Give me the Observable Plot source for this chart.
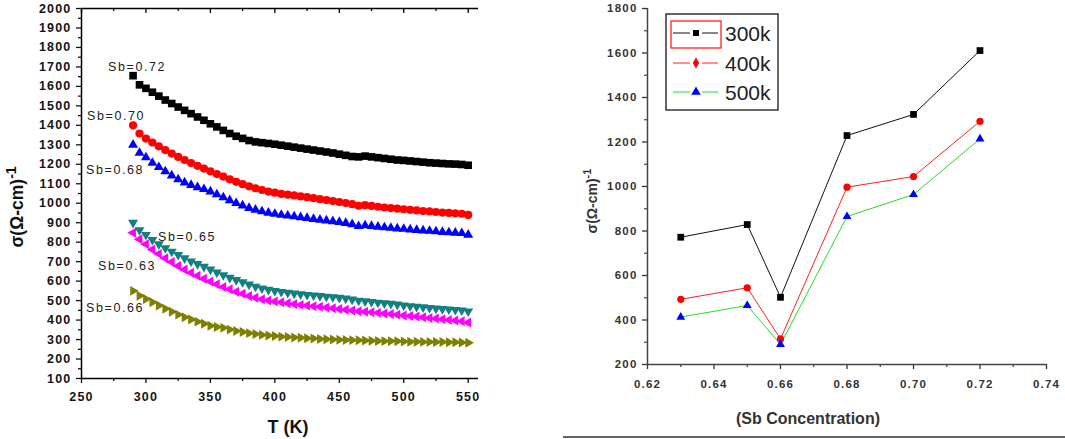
<!DOCTYPE html>
<html><head><meta charset="utf-8">
<script src="https://cdn.jsdelivr.net/npm/d3@7"></script>
<script src="https://cdn.jsdelivr.net/npm/@observablehq/plot@0.6"></script>
<style>
body{margin:0;background:#fff;}
#wrap{position:relative;width:1065px;height:439px;overflow:hidden;font-family:"Liberation Sans",Arial,sans-serif;background:#fff;}
.panel{position:absolute;top:0;}
.panel svg{overflow:visible;display:block;}
#left g[aria-label="y-axis tick label"] text,#left g[aria-label="x-axis tick label"] text{letter-spacing:1.2px;}
#right g[aria-label="y-axis tick label"] text,#right g[aria-label="x-axis tick label"] text{letter-spacing:1.2px;}
#left g[aria-label="text"] text{letter-spacing:1.6px;}
#overlay{position:absolute;left:0;top:0;pointer-events:none;}
</style></head><body><div id="wrap"><div id="left" class="panel" style="left:0"></div><div id="right" class="panel" style="left:560px"></div></div>
<script>
// ---------- Left panel data: sigma vs T ----------
const T = [290,295,300,305,310,315,320,325,330,335,340,345,350,355,360,365,370,375,380,385,390,395,400,405,410,415,420,425,430,435,440,445,450,455,460,465,470,475,480,485,490,495,500,505,510,515,520,525,530,535,540,545,550];
const sb072 = [1655,1608,1590,1570,1550,1530,1512,1494,1477,1460,1443,1426,1408,1392,1374,1358,1344,1333,1322,1315,1311,1307,1303,1298,1293,1288,1283,1278,1273,1268,1263,1258,1252,1246,1240,1238,1242,1238,1234,1230,1226,1222,1220,1217,1214,1211,1208,1206,1204,1202,1201,1199,1195];
const sb070 = [1400,1358,1332,1312,1292,1273,1255,1238,1222,1206,1192,1178,1164,1150,1137,1123,1110,1098,1087,1077,1068,1060,1054,1048,1044,1040,1035,1031,1026,1021,1016,1011,1006,1001,995,987,990,986,982,978,975,972,969,966,963,960,958,955,952,950,948,946,940];
const sb068 = [1300,1258,1235,1207,1185,1163,1142,1122,1106,1093,1082,1072,1060,1045,1030,1015,1000,988,975,966,958,951,945,940,936,932,928,924,919,915,911,907,903,898,892,882,886,883,879,876,873,870,868,865,862,860,858,855,852,850,848,846,838];
const sb065 = [900,862,838,812,790,770,752,735,718,702,688,674,660,645,631,618,606,595,583,572,563,556,550,545,541,537,533,530,527,524,521,518,515,511,506,500,497,494,490,487,484,480,476,472,469,466,463,460,457,455,453,450,445];
const sb063 = [848,815,790,762,740,718,698,678,660,643,628,612,598,584,570,558,546,535,524,515,507,501,496,491,486,482,478,475,471,468,465,461,457,453,449,445,443,440,437,434,431,428,424,421,418,415,411,408,404,401,398,394,388];
const sb066 = [550,525,508,492,475,458,443,428,415,403,392,381,371,364,360,351,344,339,333,328,324,321,318,315,313,311,309,307,305,303,301,300,299,298,297,296,295,294,293,292,292,291,290,289,289,288,288,287,287,286,286,285,284];
const leftLabels = ["Sb=0.72","Sb=0.70","Sb=0.68","Sb=0.65","Sb=0.63","Sb=0.66"];
const leftTicksY = d3.range(100, 2001, 100);
const leftTicksX = [250,300,350,400,450,500,550];

// ---------- Right panel data: sigma vs Sb ----------
const sbConc = [0.63,0.65,0.66,0.68,0.70,0.72];
const sig300 = [772,829,502,1229,1324,1611];
const sig400 = [493,545,315,997,1045,1293];
const sig500 = [413,465,290,865,964,1214];
const rightLabels = ["300k","400k","500k"];
const rightTicksY = [200,400,600,800,1000,1200,1400,1600,1800];
const rightTicksX = [0.62,0.64,0.66,0.68,0.70,0.72,0.74];

// custom triangle symbols (rotated d3 triangle)
function tri(angle){
  return {draw(ctx,size){
    const y = -Math.sqrt(size/(Math.sqrt(3)*3));
    const pts=[[0,y*2],[-Math.sqrt(3)*y,-y],[Math.sqrt(3)*y,-y]];
    const c=Math.cos(angle), s=Math.sin(angle);
    pts.forEach(([px,py],i)=>{const X=px*c-py*s, Y=px*s+py*c; i?ctx.lineTo(X,Y):ctx.moveTo(X,Y);});
    ctx.closePath();
  }};
}
const triUp=tri(0), triDown=tri(Math.PI), triLeft=tri(-Math.PI/2), triRight=tri(Math.PI/2);
const intFmt = d3.format("d");

const leftSeries = [
  {vals:sb072, label:leftLabels[0], color:"#000000", symbol:"square", r:4.3, dx:4, dy:-9},
  {vals:sb070, label:leftLabels[1], color:"#ff0000", symbol:"circle", r:4.1, dx:-17, dy:-9},
  {vals:sb068, label:leftLabels[2], color:"#0000ff", symbol:triUp, r:3.7, dx:-18, dy:25},
  {vals:sb065, label:leftLabels[3], color:"#138080", symbol:triDown, r:3.7, dx:54, dy:14},
  {vals:sb063, label:leftLabels[4], color:"#ff00ff", symbol:triLeft, r:3.7, dx:-6, dy:33},
  {vals:sb066, label:leftLabels[5], color:"#808000", symbol:triRight, r:3.7, dx:-18, dy:17}
];

const leftMarks = [
  Plot.ruleY([2000], {stroke:"#000", strokeWidth:1.3}),
  Plot.tickX(leftTicksX, {x:d=>d, insetBottom:365, stroke:"#000", strokeWidth:1.3}),
  Plot.tickX(leftTicksX.slice(0,-1).map(d=>d+25), {x:d=>d, insetBottom:367, stroke:"#000", strokeWidth:1.2}),
  Plot.axisY({ticks:leftTicksY, tickSize:5, tickPadding:5, fontSize:12.5, fontWeight:"bold", color:"#151515", strokeWidth:1.3, tickFormat:intFmt, label:null}),
  Plot.axisY({ticks:leftTicksY.slice(0,-1).map(d=>d+50), tickSize:3, tickFormat:()=>"", strokeWidth:1.2, label:null}),
  Plot.axisX({ticks:leftTicksX, tickSize:5, tickPadding:9, fontSize:12.5, fontWeight:"bold", color:"#151515", strokeWidth:1.3, tickFormat:intFmt, label:null}),
  Plot.axisX({ticks:leftTicksX.slice(0,-1).map(d=>d+25), tickSize:3, tickFormat:()=>"", strokeWidth:1.2, label:null}),
  Plot.ruleX([250], {stroke:"#000", strokeWidth:1.5}),
  Plot.ruleY([100], {stroke:"#000", strokeWidth:1.5})
];
leftSeries.forEach(s=>{
  const rows = T.map((t,i)=>({T:t, v:s.vals[i]}));
  leftMarks.push(Plot.dot(rows, {x:"T", y:"v", symbol:s.symbol, r:s.r, fill:s.color}));
});
leftSeries.forEach(s=>{
  leftMarks.push(Plot.text([{T:T[0], v:s.vals[0]}], {x:"T", y:"v", text:()=>s.label, dx:s.dx, dy:s.dy, fontSize:12.5, fill:"#222", textAnchor:"middle", lineAnchor:"middle"}));
});

const leftPlot = Plot.plot({
  width:540, height:439,
  marginLeft:81, marginRight:62, marginTop:8, marginBottom:61,
  x:{domain:[250,558]}, y:{domain:[100,2000]},
  style:{fontFamily:"'Liberation Sans', Arial, sans-serif", background:"transparent", overflow:"visible"},
  marks:leftMarks
});
document.getElementById("left").appendChild(leftPlot);

// right plot
const rightSeries = [
  {vals:sig300, color:"#000000", line:"#111111", symbol:"square", r:3.8},
  {vals:sig400, color:"#ff0000", line:"#ff2020", symbol:"circle", r:3.6},
  {vals:sig500, color:"#0000ff", line:"#22dd22", symbol:triUp, r:3.3}
];
const rightMarks = [
  Plot.axisY({ticks:rightTicksY, tickSize:5, tickPadding:5, fontSize:11.5, fontWeight:"bold", color:"#333", strokeWidth:1.3, tickFormat:intFmt, label:null}),
  Plot.axisY({ticks:rightTicksY.slice(0,-1).map(d=>d+100), tickSize:3, tickFormat:()=>"", color:"#444", strokeWidth:1.2, label:null}),
  Plot.axisX({ticks:rightTicksX, tickSize:5, tickPadding:10, fontSize:11.5, fontWeight:"bold", color:"#333", strokeWidth:1.3, tickFormat:d3.format(".2f"), label:null}),
  Plot.axisX({ticks:rightTicksX.slice(0,-1).map(d=>d+0.01), tickSize:3, tickFormat:()=>"", color:"#444", strokeWidth:1.2, label:null}),
  Plot.ruleX([0.62], {stroke:"#444", strokeWidth:1.5}),
  Plot.ruleY([200], {stroke:"#444", strokeWidth:1.5})
];
rightSeries.forEach(s=>{
  const rows = sbConc.map((c,i)=>({c, v:s.vals[i]}));
  rightMarks.push(Plot.line(rows, {x:"c", y:"v", stroke:s.line, strokeWidth:1}));
});
rightSeries.forEach(s=>{
  const rows = sbConc.map((c,i)=>({c, v:s.vals[i]}));
  rightMarks.push(Plot.dot(rows, {x:"c", y:"v", symbol:s.symbol, r:s.r, fill:s.color}));
});
const rightPlot = Plot.plot({
  width:505, height:439,
  marginLeft:87, marginRight:19, marginTop:8, marginBottom:75,
  x:{domain:[0.62,0.74]}, y:{domain:[200,1800]},
  style:{fontFamily:"'Liberation Sans', Arial, sans-serif", background:"transparent", overflow:"visible"},
  marks:rightMarks
});
document.getElementById("right").appendChild(rightPlot);

// overlay: axis titles, legend, decorations
const ov = d3.select("#wrap").append("svg").attr("id","overlay").attr("width",1065).attr("height",439)
  .style("font-family","'Liberation Sans', Arial, sans-serif");

// left y title
const ly = ov.append("text").attr("transform","translate(23,207) rotate(-90)").attr("text-anchor","middle")
  .attr("font-size",17.5).attr("font-weight","bold").attr("fill","#111");
ly.append("tspan").text("σ(Ω-cm)");
ly.append("tspan").attr("dy",-7).attr("font-size",14).text("-1");
// left x title
ov.append("text").attr("x",288).attr("y",433).attr("text-anchor","middle").attr("font-size",18).attr("font-weight","bold").attr("fill","#111").text("T (K)");

// right y title
const ry = ov.append("text").attr("transform","translate(597,201) rotate(-90)").attr("text-anchor","middle")
  .attr("font-size",14).attr("font-weight","bold").attr("fill","#333");
ry.append("tspan").text("σ(Ω-cm)");
ry.append("tspan").attr("dy",-6).attr("font-size",11).text("-1");
// right x title
ov.append("text").attr("x",808).attr("y",424).attr("text-anchor","middle").attr("font-size",16).attr("font-weight","bold").attr("fill","#333").text("(Sb Concentration)");
// bottom rule
ov.append("line").attr("x1",563).attr("x2",1065).attr("y1",437).attr("y2",437).attr("stroke","#333").attr("stroke-width",1.5);

// legend
ov.append("rect").attr("x",666).attr("y",14).attr("width",112).attr("height",96).attr("fill","none").attr("stroke","#333").attr("stroke-width",1.5);
ov.append("rect").attr("x",671).attr("y",21).attr("width",50).attr("height",27).attr("fill","none").attr("stroke","#ff2020").attr("stroke-width",1.3);
const legSyms = [d3.symbolSquare, d3.symbolDiamond, d3.symbolTriangle];
const legSizes = [36, 36, 40];
rightSeries.forEach((s,i)=>{
  const y = [33,63,92][i];
  ov.append("line").attr("x1",673).attr("x2",690).attr("y1",y).attr("y2",y).attr("stroke",s.line).attr("stroke-width",1);
  ov.append("line").attr("x1",702).attr("x2",718).attr("y1",y).attr("y2",y).attr("stroke",s.line).attr("stroke-width",1);
  ov.append("path").attr("transform",`translate(696,${y})`).attr("d",d3.symbol(legSyms[i], legSizes[i])()).attr("fill",s.color);
  ov.append("text").attr("x",725).attr("y",y).attr("dy","0.36em").attr("font-size",21).attr("fill","#222").text(rightLabels[i]);
});
</script></body></html>
